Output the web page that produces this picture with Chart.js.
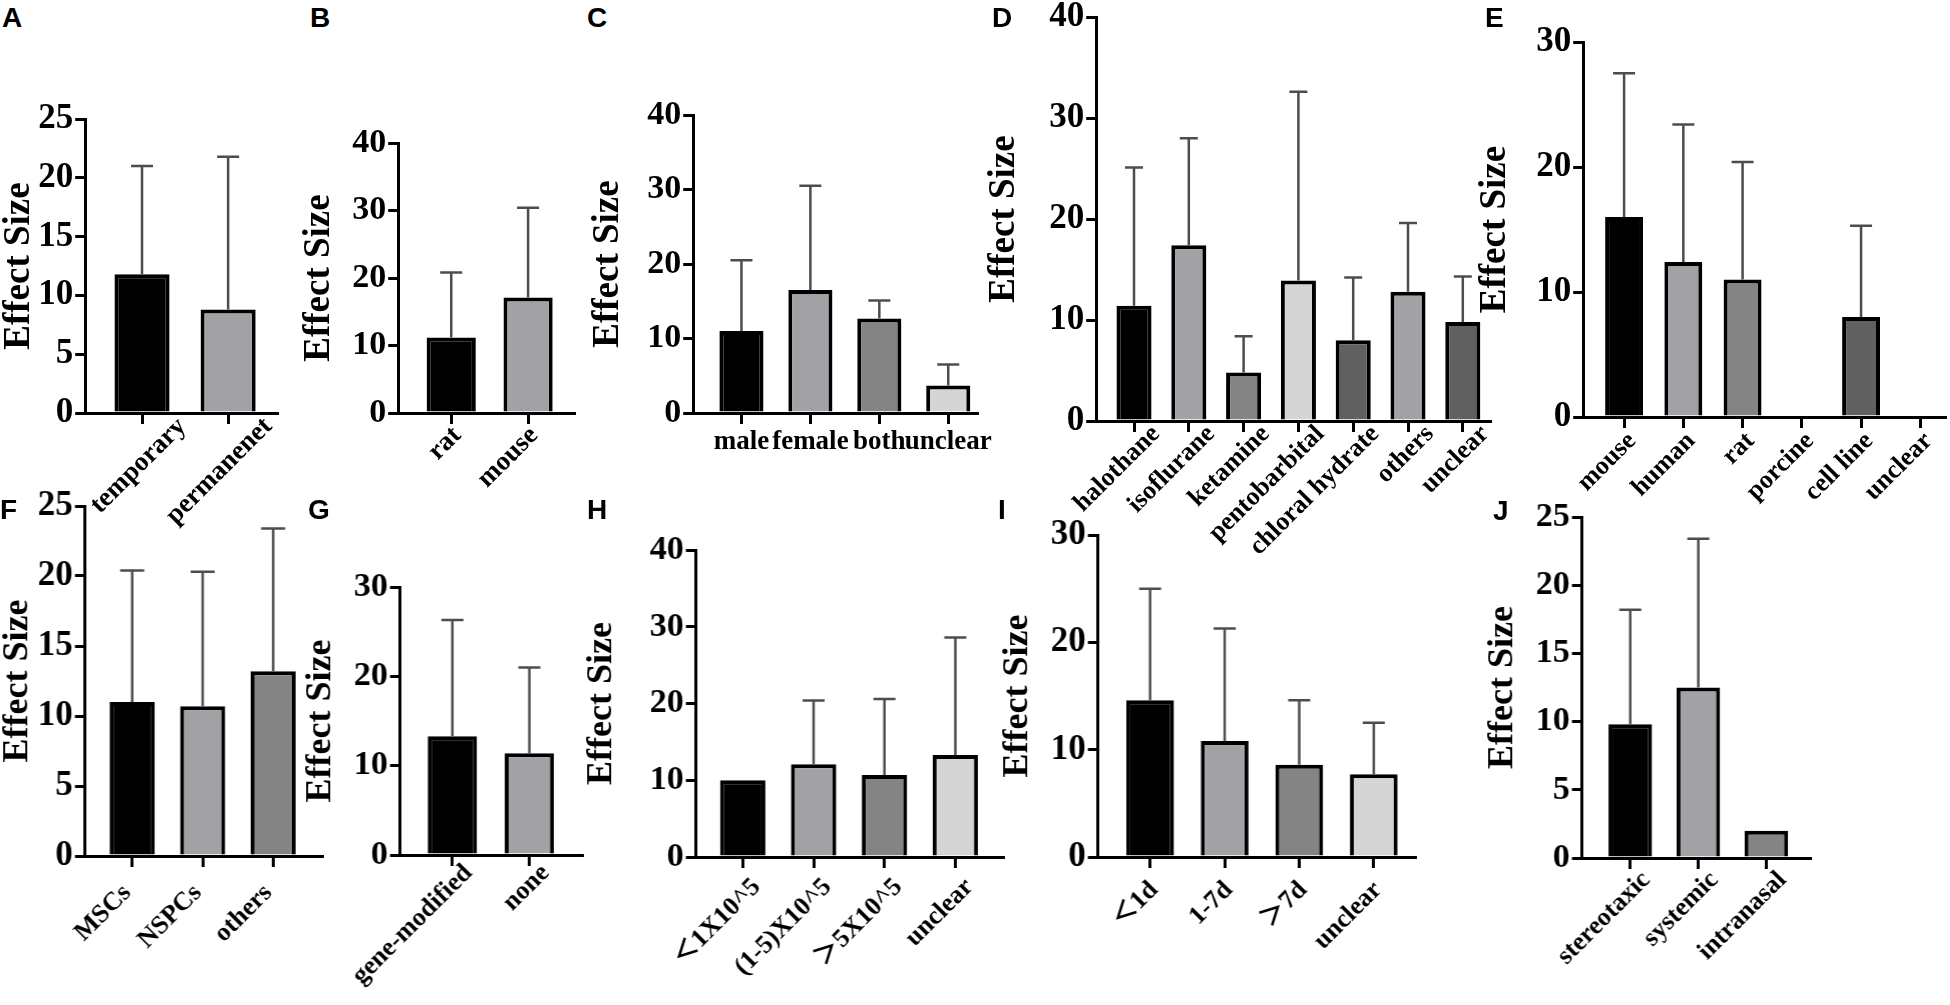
<!DOCTYPE html>
<html>
<head>
<meta charset="utf-8">
<script src="https://cdn.jsdelivr.net/npm/chart.js@4.4.1/dist/chart.umd.min.js"></script>
<style>
  body { margin: 0; background: #fff; width: 1950px; height: 1005px; position: relative; overflow: hidden; }
  .panel { position: absolute; }
  .tag { position: absolute; font: bold 28px 'Liberation Sans', Arial, sans-serif; line-height: 28px; color: #000; }
</style>
</head>
<body>
<script>
// values: bar = mean, error bar = mean + SD (upper only)
var aLabels = ['temporary', 'permanenet'];
var aMeans = [11.8, 8.8];
var aSD = [9.2, 13.0];

var bLabels = ['rat', 'mouse'];
var bMeans = [11.2, 17.1];
var bSD = [9.6, 13.3];

var cLabels = ['male', 'female', 'both', 'unclear'];
var cMeans = [11.0, 16.5, 12.7, 3.7];
var cSD = [9.5, 14.0, 2.4, 2.8];

var dLabels = ['halothane', 'isoflurane', 'ketamine', 'pentobarbital', 'chloral hydrate', 'others', 'unclear'];
var dMeans = [11.4, 17.4, 4.8, 13.9, 8.0, 12.8, 9.8];
var dSD = [13.7, 10.6, 3.6, 18.7, 6.2, 6.8, 4.5];

var eLabels = ['mouse', 'human', 'rat', 'porcine', 'cell line', 'unclear'];
var eMeans = [16.0, 12.4, 11.0, null, 8.0, null];
var eSD = [11.5, 11.0, 9.4, null, 7.3, null];

var fLabels = ['MSCs', 'NSPCs', 'others'];
var fMeans = [11.0, 10.7, 13.2];
var fSD = [9.4, 9.6, 10.2];

var gLabels = ['gene-modified', 'none'];
var gMeans = [13.3, 11.4];
var gSD = [13.0, 9.6];

var hLabels = ['＜1X10^5', '(1-5)X10^5', '＞5X10^5', 'unclear'];
var hMeans = [10.0, 12.1, 10.7, 13.3];
var hSD = [null, 8.3, 9.9, 15.3];

var iLabels = ['＜1d', '1-7d', '＞7d', 'unclear'];
var iMeans = [14.6, 10.8, 8.6, 7.7];
var iSD = [10.4, 10.5, 6.0, 4.8];

var jLabels = ['stereotaxic', 'systemic', 'intranasal'];
var jMeans = [9.8, 12.5, 2.0];
var jSD = [8.4, 10.9, null];

var greys = ['#000000', '#a2a2a6', '#848484', '#d5d5d5', '#606060', '#a2a2a6', '#606060'];
var serif = "'Liberation Serif', 'Times New Roman', 'Noto Sans CJK SC', serif";

// layout of each panel: box = plot area [left, top, right, bottom] in page pixels
var panels = [
  { tag: 'A', tagAt: [2, 8], labels: aLabels, means: aMeans, sd: aSD, yMax: 25, step: 5,
    box: [85, 119, 277, 413], xMin: -0.66, xMax: 1.57, titleOff: 66, tickFont: 35, titleFont: 37,
    labelFont: 27, lblOff: 40, lblPad: -13, rot: 45, cap: 11 },
  { tag: 'B', tagAt: [310, 8], labels: bLabels, means: bMeans, sd: bSD, yMax: 40, step: 10,
    box: [398, 143, 574, 413], xMin: -0.69, xMax: 1.6, titleOff: 79, tickFont: 34, titleFont: 37,
    labelFont: 27, lblOff: 6, lblPad: -4, rot: 45, cap: 11 },
  { tag: 'C', tagAt: [587, 8], labels: cLabels, means: cMeans, sd: cSD, yMax: 40, step: 10,
    box: [693, 115, 977, 413], xMin: -0.70, xMax: 3.42, titleOff: 85, tickFont: 34, titleFont: 37,
    labelFont: 27, lblOff: 0, lblPad: 2, rot: 0, cap: 11 },
  { tag: 'D', tagAt: [992, 8], labels: dLabels, means: dMeans, sd: dSD, yMax: 40, step: 10,
    box: [1096, 17, 1490, 421], xMin: -0.69, xMax: 6.5, titleOff: 92, tickFont: 35, titleFont: 37,
    labelFont: 26, lblOff: 22, lblPad: -13, rot: 45, cap: 9 },
  { tag: 'E', tagAt: [1485, 8], labels: eLabels, means: eMeans, sd: eSD, yMax: 30, step: 10,
    box: [1583, 42, 1945, 417], xMin: -0.69, xMax: 5.42, titleOff: 88, tickFont: 35, titleFont: 37,
    labelFont: 26, lblOff: 8, lblPad: -2, rot: 45, cap: 11 },
  { tag: 'F', tagAt: [0, 500], labels: fLabels, means: fMeans, sd: fSD, yMax: 25, step: 5,
    box: [85, 506, 322, 856], xMin: -0.67, xMax: 2.7, titleOff: 67, tickFont: 35, titleFont: 36,
    labelFont: 26, lblOff: -5, lblPad: 11, rot: 45, cap: 12 },
  { tag: 'G', tagAt: [308, 500], labels: gLabels, means: gMeans, sd: gSD, yMax: 30, step: 10,
    box: [400, 587, 582, 855], xMin: -0.68, xMax: 1.69, titleOff: 79, tickFont: 34, titleFont: 36,
    labelFont: 26, lblOff: 16, lblPad: -8, rot: 45, cap: 11 },
  { tag: 'H', tagAt: [587, 500], labels: hLabels, means: hMeans, sd: hSD, yMax: 40, step: 10,
    box: [696, 550, 1003, 857], xMin: -0.66, xMax: 3.68, titleOff: 94, tickFont: 34, titleFont: 36,
    labelFont: 26, lblOff: 14, lblPad: 4, rot: 45, cap: 11 },
  { tag: 'I', tagAt: [998, 500], labels: iLabels, means: iMeans, sd: iSD, yMax: 30, step: 10,
    box: [1098, 535, 1415, 857], xMin: -0.7, xMax: 3.56, titleOff: 80, tickFont: 35, titleFont: 36,
    labelFont: 26, lblOff: 4, lblPad: 7, rot: 45, cap: 11 },
  { tag: 'J', tagAt: [1493, 501], labels: jLabels, means: jMeans, sd: jSD, yMax: 25, step: 5,
    box: [1582, 517, 1810, 858], xMin: -0.71, xMax: 2.65, titleOff: 79, tickFont: 34, titleFont: 36,
    labelFont: 26, lblOff: 16, lblPad: -4, rot: 45, cap: 11 }
];

// upper-only SD bars with a cap, drawn from the y scale
var errorBars = {
  id: 'errorBars',
  afterDatasetsDraw: function (chart, args, opts) {
    var ctx = chart.ctx;
    var y = chart.scales.y;
    var ds = chart.data.datasets[0];
    var meta = chart.getDatasetMeta(0);
    ctx.save();
    ctx.strokeStyle = '#4d4d4d';
    ctx.lineWidth = 2.5;
    meta.data.forEach(function (bar, i) {
      var m = ds.data[i].y;
      var e = ds.errors[i];
      if (m == null || e == null) return;
      var top = y.getPixelForValue(m + e);
      ctx.beginPath();
      ctx.moveTo(bar.x, bar.y);
      ctx.lineTo(bar.x, top);
      ctx.moveTo(bar.x - opts.cap, top);
      ctx.lineTo(bar.x + opts.cap, top);
      ctx.stroke();
    });
    ctx.restore();
  }
};

function drawPanel(p) {
  var yW = p.titleOff + p.titleFont * 1.2 / 2;
  var padL = 60, padT = 24, padR = 50, xH = 210;
  var left = p.box[0], top = p.box[1], right = p.box[2], bottom = p.box[3];

  var div = document.createElement('div');
  div.className = 'panel';
  div.style.left = (left - yW - padL) + 'px';
  div.style.top = (top - padT) + 'px';
  div.style.width = (right - left + yW + padL + padR) + 'px';
  div.style.height = (bottom - top + padT + xH) + 'px';
  var cv = document.createElement('canvas');
  div.appendChild(cv);
  document.body.appendChild(div);

  var tag = document.createElement('div');
  tag.className = 'tag';
  tag.textContent = p.tag;
  tag.style.left = p.tagAt[0] + 'px';
  tag.style.top = (p.tagAt[1] - 4) + 'px';
  document.body.appendChild(tag);

  new Chart(cv, {
    type: 'bar',
    data: {
      datasets: [{
        data: p.means.map(function (v, i) { return { x: i, y: v }; }),
        errors: p.sd,
        backgroundColor: greys.slice(0, p.means.length),
        borderColor: '#000',
        borderWidth: 4,
        borderSkipped: 'start',
        barPercentage: 0.64,
        categoryPercentage: 1
      }]
    },
    options: {
      responsive: true,
      maintainAspectRatio: false,
      animation: false,
      devicePixelRatio: 1,
      layout: { padding: { left: padL, top: padT, right: padR, bottom: 0 } },
      plugins: {
        legend: { display: false },
        tooltip: { enabled: false },
        errorBars: { cap: p.cap }
      },
      scales: {
        x: {
          type: 'linear',
          min: p.xMin,
          max: p.xMax,
          bounds: 'data',
          offset: false,
          afterBuildTicks: function (s) { s.ticks = p.labels.map(function (_, i) { return { value: i }; }); },
          afterFit: function (s) { s.height = xH; },
          ticks: {
            autoSkip: false,
            minRotation: p.rot,
            maxRotation: p.rot,
            labelOffset: p.lblOff,
            padding: p.lblPad,
            color: '#000',
            font: { family: serif, size: p.labelFont, weight: 'bold' },
            callback: function (v) { return p.labels[v]; }
          },
          grid: { offset: false, drawOnChartArea: false, drawTicks: true, tickLength: 11, lineWidth: 3, color: '#000' },
          border: { display: true, width: 3, color: '#000' }
        },
        y: {
          min: 0,
          max: p.yMax,
          afterFit: function (s) { s.width = yW; },
          ticks: { stepSize: p.step, padding: 2, color: '#000', font: { family: serif, size: p.tickFont, weight: 'bold' } },
          title: { display: true, text: 'Effect Size', color: '#000', padding: 0, font: { family: serif, size: p.titleFont, weight: 'bold' } },
          grid: { drawOnChartArea: false, drawTicks: true, tickLength: 10, lineWidth: 3, color: '#000' },
          border: { display: true, width: 3, color: '#000' }
        }
      }
    },
    plugins: [errorBars]
  });
}

panels.forEach(drawPanel);
</script>
</body>
</html>
